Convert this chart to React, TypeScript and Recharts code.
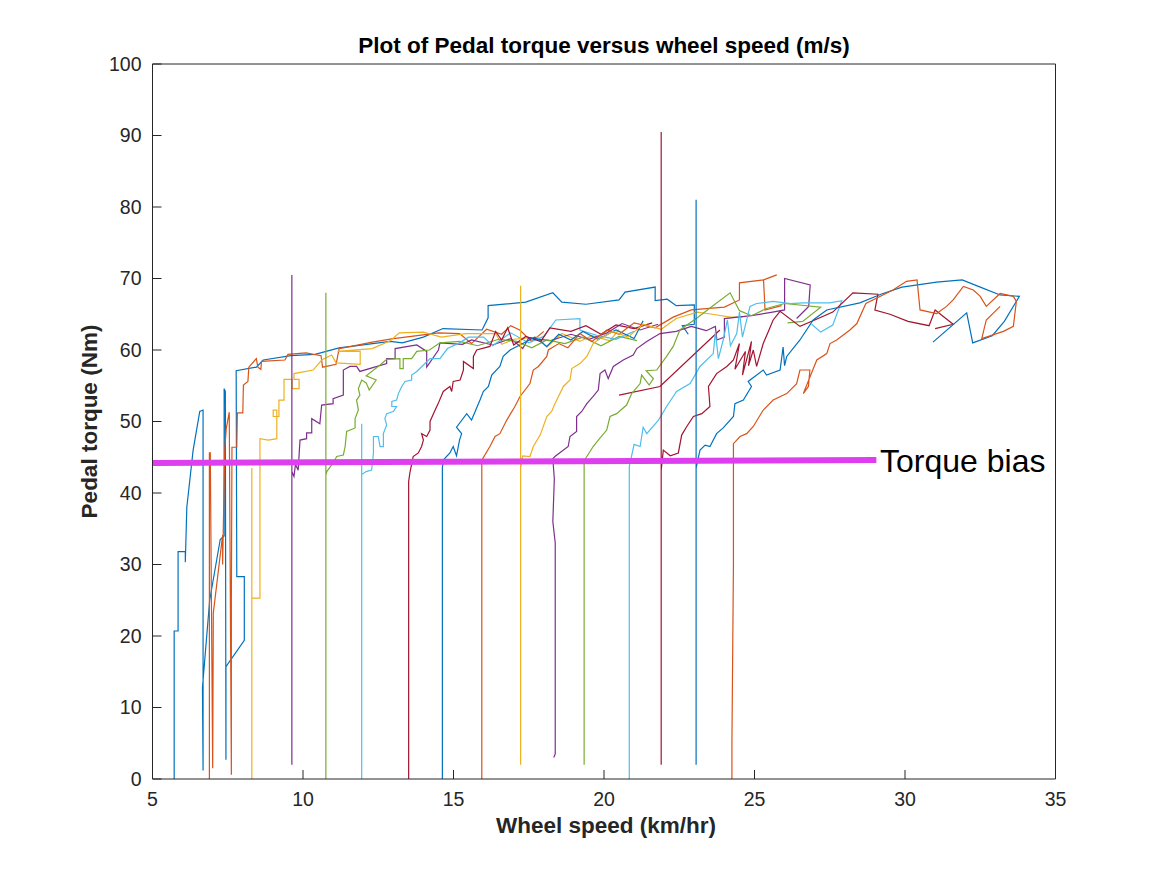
import React from "react";
import { LineChart, Line, XAxis, YAxis } from "recharts";

// MATLAB default colour order
const matBlue = "#0072BD";
const matOrange = "#D95319";
const matYellow = "#EDB120";
const matPurple = "#7E2F8E";
const matGreen = "#77AC30";
const matLightBlue = "#4DBEEE";
const matDarkRed = "#A2142F";

const xTicks = [5, 10, 15, 20, 25, 30, 35];
const yTicks = [0, 10, 20, 30, 40, 50, 60, 70, 80, 90, 100];

// [wheel speed km/hr, pedal torque Nm]
const run01 = [[5.72,0],[5.72,20.7],[5.85,20.7],[5.85,31.8],[6.09,31.8],[6.09,30.3],[6.14,38],[6.35,46],[6.57,51.4],[6.68,51.6],[6.68,1.2],[6.66,12.8],[6.9,25],[7.25,33.5],[7.38,34],[7.38,54.6],[7.42,54.2],[7.44,2.7],[7.44,15.7],[8.05,19.4],[8.05,28.3],[7.8,28.3],[7.78,57.1],[8.45,57.6],[8.68,58.6],[9.6,59.2],[10.4,59.4],[11.2,60.3],[11.8,60.6],[12.9,61.2],[13.3,61],[14.0,61.8],[14.65,63],[15.95,62.8],[16.15,64.5],[16.15,66.2],[17.4,66.7],[18.3,68],[18.6,66.7],[19.4,66.4],[20.5,67],[20.7,68.1],[21.7,68.8],[21.7,66.9],[22.1,67.1],[22.4,66.2],[23.0,66.3],[23.0,63.6],[22.6,63.4],[22.8,62.2]];
const run02 = [[6.89,0],[6.89,45.6],[6.92,45.6],[7.0,1.5],[7.02,23.2],[7.33,34.1],[7.33,30],[7.4,46],[7.45,49],[7.55,51.3],[7.62,0.6],[7.62,25],[7.64,46.4],[7.8,46.4],[7.82,51.2],[8.0,51.2],[8.02,55.1],[8.17,55.6],[8.2,57.6],[8.45,58.8],[8.5,57.6],[8.6,57.3],[8.62,58.4],[9.4,58.6],[9.5,59.4],[10.1,59.6],[10.6,59.2],[10.65,57.6],[11.1,58.0],[11.2,60.2],[11.6,60.5],[12.3,61.1],[13.0,61.6],[13.6,61.9],[14.5,62.4],[15.2,62.3],[15.6,60.9],[16.1,62.9],[16.6,62.2],[16.9,63.4],[17.2,62.8],[17.6,61.2],[18.0,62.6]];
const run03 = [[8.3,0],[8.3,43.5],[8.3,25.3],[8.57,25.3],[8.57,47.6],[8.85,47.4],[9.13,47.6],[9.13,51.6],[9.01,51.6],[9.01,50.7],[9.2,50.7],[9.2,53],[9.37,53],[9.37,55.9],[9.64,55.9],[9.64,54.6],[9.87,54.6],[9.87,55.9],[9.7,55.9],[9.7,56.7],[10.34,57.2],[10.62,58.6],[10.95,59.3],[11.1,58.2],[11.9,58.0],[11.9,59.8],[11.15,59.8],[12.3,60.2],[12.9,61.3],[13.2,62.4],[14.0,62.5],[14.6,61.8],[15.4,62.3],[16.4,62.3],[16.6,60.8],[17.0,61.5],[17.8,61.8],[18.1,60.4],[18.6,62.3],[19.2,61.2],[19.6,62],[20.2,61.3],[20.5,62.9]];
const run04 = [[9.63,2],[9.63,70.5],[9.63,43],[9.7,42.3],[9.75,44],[9.84,43.2],[9.9,47.4],[10.12,47.6],[10.12,48.4],[10.29,48.4],[10.29,50.4],[10.56,49.7],[10.62,52.3],[11.0,52.5],[11.0,53.2],[11.34,53.7],[11.34,57.2],[11.56,57.7],[11.78,57.7],[11.89,57.0],[12.78,58.1],[12.78,58.8],[13.06,58.8],[13.06,60.2],[13.78,60.7],[14.11,59.8],[14.11,57.6],[14.5,60],[14.55,61],[15.3,60.8],[15.6,61.4],[16.3,60.7],[16.9,61.6],[17.3,60.2],[17.5,61.7],[18.2,61.3],[18.9,62.2],[19.5,61.5],[20.1,62.4],[20.6,63.7],[21.2,62.8],[21.8,63.6]];
const run05 = [[10.76,0],[10.76,68],[10.76,42.5],[10.79,43.0],[11.0,44.2],[11.12,45.1],[11.34,45.3],[11.4,46.5],[11.45,48.6],[11.73,49.1],[11.73,50.4],[11.84,51.6],[11.78,53.0],[11.89,53.7],[11.84,54.6],[11.95,55.8],[12.1,55.4],[12.2,54.4],[12.43,55.8],[12.1,56.4],[12.56,57.9],[12.78,58.7],[13.22,58.8],[13.22,57.4],[13.33,57.4],[13.33,58.8],[13.61,58.8],[13.78,59.8],[14.2,60],[14.55,61],[15.2,61.2],[15.8,60.6],[16.5,61.5],[17.1,61.2],[17.6,60.3],[18.1,61.4],[18.7,60.9],[19.3,61.8],[19.9,60.6],[20.5,61.9],[21.1,61.3]];
const run06 = [[11.95,0],[11.95,49.7],[11.95,42.6],[12.1,43],[12.28,43.2],[12.34,45.6],[12.34,47.9],[12.5,47.9],[12.56,46.5],[12.67,46.5],[12.67,48.3],[12.78,49.5],[12.72,50.4],[12.78,51.1],[13.0,51.4],[13.11,52.1],[12.95,52.1],[12.95,52.8],[13.11,53.0],[13.17,53.9],[13.28,54.9],[13.39,55.6],[13.61,55.8],[13.61,56.5],[13.78,57.0],[14.0,57.9],[14.22,58.8],[14.55,58.8],[14.8,60.2],[15.2,61],[15.5,61.8],[16.0,61.8],[16.3,60.6],[16.9,62.4],[17.5,61],[18.0,61.9],[18.4,64.2],[19.2,64.4],[19.2,62.8],[19.8,62],[20.4,61.5],[21.0,62.6]];
const run07 = [[13.51,0],[13.51,41.6],[13.55,42.8],[13.66,45.1],[13.83,45.6],[13.94,46.5],[14.0,47.4],[13.94,48.3],[14.11,47.9],[14.22,48.8],[14.22,50.0],[14.39,51.6],[14.49,52.5],[14.66,54.2],[14.88,54.9],[14.94,54.2],[14.99,55.6],[15.22,55.8],[15.33,57.2],[15.33,58.4],[15.66,57.4],[15.66,59.1],[15.77,60.0],[16.21,60.5],[16.4,62.6],[16.6,61.4],[16.8,63.1],[17.0,60.7],[17.4,61.9],[17.9,61.2],[18.2,63.1],[18.9,62.6],[19.4,63.4],[19.9,62.2],[20.4,63.5],[21.0,63.0],[21.6,63.8]];
const run07b = [[20.5,53.7],[21.86,54.9],[23.85,62.8]];
const run08 = [[14.63,0],[14.63,43.5],[14.66,44.6],[14.88,45.6],[14.99,46.5],[15.1,45.2],[15.2,47.4],[15.27,48.3],[15.1,49.2],[15.44,51.1],[15.6,50.2],[15.88,53.0],[15.99,54.2],[16.16,54.9],[16.27,56.5],[16.54,57.7],[16.65,59.1],[16.88,60.0],[17.3,60.9],[17.7,61.8],[18.1,60.5],[18.5,62.2],[18.9,61.4],[19.3,62.6],[19.8,61.5],[20.4,62.8],[21.0,61.6],[21.3,64.1]];
const run09 = [[15.94,0],[15.94,44.6],[16.21,46.5],[16.38,47.9],[16.54,48.3],[16.77,50.2],[17.04,52.1],[17.21,53.5],[17.54,55.3],[17.65,57.2],[17.82,57.7],[18.1,59.1],[18.15,60.0],[18.5,60.9],[18.8,60.3],[19.2,62.3],[19.6,61.2],[20.1,62.8],[20.5,62.2],[21.0,63.8],[21.7,63.1],[22.3,64.6],[22.9,65.6],[24.0,66],[24.5,67],[24.5,69.4],[25.3,69.8],[25.74,70.5],[25.3,69.8],[25.35,65.6],[25.9,66.2]];
const run10 = [[17.23,2],[17.23,69],[17.23,43.5],[17.3,45.2],[17.54,45.1],[17.65,46.5],[17.88,48.1],[18.1,50.7],[18.26,51.4],[18.37,52.5],[18.65,54.9],[18.87,55.8],[18.93,57.4],[19.2,58.1],[19.43,59.1],[19.64,60.9],[19.87,61.6],[20.3,62.6],[20.8,61.8],[21.3,63.6],[21.9,62.9],[22.4,64.4],[23.1,65.3],[23.6,65],[24.2,64.6],[24.6,64.6]];
const run11 = [[18.33,3],[18.38,3.5],[18.38,33],[18.3,36],[18.35,42],[18.3,44.8],[18.37,45.1],[18.81,46.5],[18.87,47.9],[19.09,48.6],[19.09,50.7],[19.26,51.4],[19.43,52.5],[19.64,53.5],[19.81,54.4],[19.87,56.7],[20.03,57.2],[20.14,56.0],[20.31,57.7],[20.64,58.6],[20.97,59.3],[21.09,60.2],[21.42,61.2],[21.86,62.3],[22.4,62.6],[22.9,63.3],[23.4,62.7],[23.7,63.3],[23.75,61.4],[24.0,61.8],[24.0,64.4],[24.9,64.8],[25.6,65.3],[26.0,65.6],[26.0,70.0],[26.85,69.1],[26.8,66.1],[26.4,64.4]];
const run12 = [[19.34,2],[19.34,44.5],[19.43,45.1],[19.64,46.5],[19.81,47.4],[20.09,48.8],[20.2,50.7],[20.42,51.1],[20.75,52.3],[20.92,53.9],[21.2,55.3],[21.25,56.5],[21.5,55.1],[21.64,56.0],[21.4,57.1],[21.75,57.2],[22.08,59.1],[22.3,60.5],[22.52,62.8],[23.1,64.5],[23.5,65.8],[24.19,68],[24.5,65.5],[24.9,64.8],[25.4,65.8],[26.0,66.5],[27.2,66],[26.6,64],[26.1,63.8]];
const run13 = [[20.84,0],[20.84,43.7],[21.0,46.8],[21.2,46.5],[21.3,49.2],[21.42,48.3],[21.81,50.2],[22.08,52.1],[22.41,54.2],[22.86,55.3],[23.19,57.7],[23.63,59.5],[23.7,62.5],[23.8,58.8],[23.96,61.4],[24.1,64.2],[24.2,60.6],[24.41,62.3],[24.5,65.3],[24.6,61.8],[24.74,64.2],[24.85,66.1],[25.07,66.5],[25.62,66.8],[26.2,66.5],[26.6,66.6],[27.5,66.6],[27.9,66.9],[27.6,63.5],[27.2,62.5],[26.9,63.6]];
const run14 = [[21.9,2],[21.9,90.5],[21.9,43.2],[21.97,46.0],[22.2,45.2],[22.47,45.6],[22.58,48.1],[22.75,49.3],[22.97,50.7],[23.25,51.1],[23.52,52.1],[23.47,54.9],[23.74,56.7],[24.08,57.7],[24.3,58.6],[24.5,60.9],[24.35,57.3],[24.7,59.8],[24.6,56.5],[24.9,61.2],[24.8,57.8],[24.96,60.0],[25.07,57.7],[25.29,60.9],[25.46,62.6],[25.62,64.2],[25.85,65.4],[26.51,63.3],[27.0,64.2],[27.6,65.3],[28.27,68.0],[29.1,67.8],[29.0,65.6],[29.5,65.0],[30.1,64.0],[30.8,63.4],[31.0,65.6],[31.6,63.6],[31.0,63.0]];
const run15 = [[23.06,2],[23.06,81],[23.06,43.5],[23.19,46.0],[23.36,46.7],[23.52,46.5],[23.74,48.3],[23.96,49.1],[24.3,50.7],[24.35,52.5],[24.63,53.0],[24.9,54.9],[24.79,55.6],[25.29,57.2],[25.4,56.5],[25.85,57.2],[25.95,60.4],[26.0,57.8],[26.07,59.1],[26.51,61.4],[26.95,64.2],[27.4,65.6],[28.5,66.6],[29.2,67.8],[29.9,68.8],[31.05,69.5],[31.9,69.8],[32.5,68.8],[33.16,67.7],[33.8,67.5],[33.3,64],[32.9,62],[32.25,61],[32.05,65.2],[30.93,61.1]];
const run16 = [[24.25,0],[24.25,5],[24.3,30],[24.3,46.9],[24.52,47.9],[24.74,48.3],[24.96,49.3],[25.29,51.6],[25.62,53.0],[26.07,53.9],[26.4,55.3],[26.51,57.2],[26.84,57.2],[26.79,54.9],[26.62,53.9],[27.07,58.6],[27.4,59.5],[27.51,60.9],[27.73,61.4],[28.17,62.8],[28.4,63.7],[28.7,66.5],[29.6,68.4],[30.05,69.6],[30.4,69.8],[30.5,65.6],[31.05,65.1],[31.38,66.1],[31.6,67],[31.94,68.9],[32.27,68.4],[32.5,67.5],[32.7,66.1],[33.16,67.9],[33.6,67.5],[33.7,66.8],[33.6,63.3],[33.27,62.6],[32.55,61.6],[32.7,64.2],[33.16,66.1]];

const torqueBias = [[4.9, 44.2], [29.05, 44.6]];

const runs: [number[][], string][] = [
  [run01, matBlue],
  [run02, matOrange],
  [run03, matYellow],
  [run04, matPurple],
  [run05, matGreen],
  [run06, matLightBlue],
  [run07, matDarkRed],
  [run07b, matDarkRed],
  [run08, matBlue],
  [run09, matOrange],
  [run10, matYellow],
  [run11, matPurple],
  [run12, matGreen],
  [run13, matLightBlue],
  [run14, matDarkRed],
  [run15, matBlue],
  [run16, matOrange],
];

const toPoints = (arr: number[][]) => arr.map(([x, y]) => ({ x, y }));

const axisColor = "#262626";
const font = '"Liberation Sans", Arial, Helvetica, sans-serif';

export default function App() {
  return (
    <div style={{ position: "relative", width: 1150, height: 860, fontFamily: font }}>
      <LineChart
        width={1150}
        height={860}
        margin={{ top: 46, right: 92.5, bottom: 59, left: 114.5 }}
        style={{ fontFamily: font }}
      >
        <XAxis
          type="number"
          dataKey="x"
          domain={[5, 35]}
          ticks={xTicks}
          allowDataOverflow
          height={30}
          tickSize={-9}
          tickMargin={22}
          axisLine={{ stroke: axisColor }}
          tickLine={{ stroke: axisColor }}
          tick={{ fontSize: 19.5, fill: axisColor }}
        />
        <XAxis
          xAxisId="top"
          orientation="top"
          type="number"
          dataKey="x"
          domain={[5, 35]}
          ticks={xTicks}
          height={10}
          tickSize={-9}
          tick={false}
          axisLine={{ stroke: axisColor }}
          tickLine={{ stroke: axisColor }}
        />
        <YAxis
          type="number"
          domain={[0, 100]}
          ticks={yTicks}
          width={30}
          tickSize={-9}
          tickMargin={20}
          axisLine={{ stroke: axisColor }}
          tickLine={{ stroke: axisColor }}
          tick={{ fontSize: 19.5, fill: axisColor }}
        />
        <YAxis
          yAxisId="right"
          orientation="right"
          type="number"
          domain={[0, 100]}
          ticks={yTicks}
          width={10}
          tickSize={-9}
          tick={false}
          axisLine={{ stroke: axisColor }}
          tickLine={{ stroke: axisColor }}
        />
        {runs.map(([arr, color], i) => (
          <Line
            key={i}
            data={toPoints(arr)}
            dataKey="y"
            type="linear"
            stroke={color}
            strokeWidth={1.2}
            dot={false}
            activeDot={false}
            isAnimationActive={false}
          />
        ))}
        <Line
          data={toPoints(torqueBias)}
          dataKey="y"
          type="linear"
          stroke="#DD3FEE"
          strokeWidth={6}
          dot={false}
          activeDot={false}
          isAnimationActive={false}
        />
      </LineChart>
      <svg
        width={1150}
        height={860}
        style={{ position: "absolute", left: 0, top: 0, pointerEvents: "none", fontFamily: font }}
      >
        <text x={596} y={45} textAnchor="middle" fontSize={22.5} fontWeight="bold" fill="#000">
          Plot of Pedal torque versus wheel speed (m/s)
        </text>
        <text x={598} y={825} textAnchor="middle" fontSize={22.5} fontWeight="bold" fill={axisColor}>
          Wheel speed (km/hr)
        </text>
        <text
          transform="rotate(-90)"
          x={-413.5}
          y={89}
          textAnchor="middle"
          fontSize={22.5}
          fontWeight="bold"
          fill={axisColor}
        >
          Pedal torque (Nm)
        </text>
        <text x={872} y={464} fontSize={32} fill="#000">
          Torque bias
        </text>
      </svg>
    </div>
  );
}
